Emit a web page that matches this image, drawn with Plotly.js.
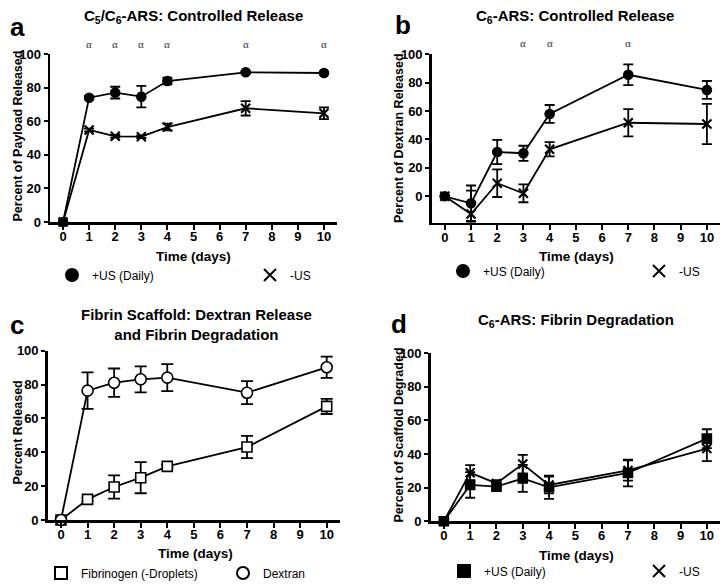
<!DOCTYPE html>
<html>
<head>
<meta charset="utf-8">
<script src="https://cdn.plot.ly/plotly-3.0.1.min.js"></script>
<style>html,body{margin:0;padding:0;background:#fff;overflow:hidden;}#chart{width:728px;height:584px;}</style>
</head>
<body>
<div id="chart"></div>
<script>
// ---------- data ----------
const days = [0, 1, 2, 3, 4, 7, 10];
const xTicks = [0, 1, 2, 3, 4, 5, 6, 7, 8, 9, 10];
const yTicks = [0, 20, 40, 60, 80, 100];

// Panel a: C5/C6-ARS controlled release
const aUS = [0, 74.0, 77.0, 74.6, 83.9, 89.1, 88.7];
const aUSerr = [0.8, 1.0, 3.5, 6.4, 2.0, 0.8, 0.8];
const aNoUS = [0, 54.8, 51.0, 50.8, 56.5, 67.7, 64.7];
const aNoUSerr = [0.5, 0.8, 0.8, 0.8, 2.0, 4.3, 3.5];
const aAlphaDays = [1, 2, 3, 4, 7, 10];

// Panel b: C6-ARS controlled release
const bUS = [0, -4.9, 31.2, 30.3, 58.0, 85.6, 74.9];
const bUSerr = [0.5, 12.5, 8.5, 5.3, 6.3, 7.3, 6.3];
const bNoUS = [0, -12.5, 9.2, 2.1, 33.1, 51.8, 50.9];
const bNoUSerrPlus = [0.5, 16.5, 9.7, 6.3, 5.0, 9.6, 14.2];
const bNoUSerrMinus = [0.5, 6.5, 9.7, 6.3, 5.0, 9.6, 14.2];
const bAlphaDays = [3, 4, 7];

// Panel c: fibrin scaffold
const cFibrinogen = [0, 12.2, 19.5, 25.0, 31.7, 43.1, 67.1];
const cFibrinogenErr = [0.5, 1.0, 6.9, 9.2, 1.0, 6.6, 4.5];
const cDextran = [0, 76.4, 81.1, 83.1, 84.1, 75.2, 90.2];
const cDextranErr = [0.5, 10.8, 8.4, 7.7, 8.0, 6.8, 6.3];

// Panel d: C6-ARS fibrin degradation
const dUS = [0, 21.6, 20.6, 25.5, 20.2, 28.7, 49.1];
const dUSerr = [0.5, 7.6, 2.0, 8.0, 6.9, 7.9, 5.6];
const dNoUS = [0, 28.9, 22.5, 34.0, 21.6, 30.2, 43.2];
const dNoUSerr = [0.5, 4.5, 2.0, 5.5, 5.0, 6.0, 7.4];

const nameUS = '+US (Daily)';
const nameNoUS = '-US';
const nameFib = 'Fibrinogen (-Droplets)';
const nameDex = 'Dextran';

const xTitle = 'Time (days)';
const yTitleA = 'Percent of Payload Released';
const yTitleB = 'Percent of Dextran Released';
const yTitleC = 'Percent Released';
const yTitleD = 'Percent of Scaffold Degraded';

// ---------- helpers ----------
const W = 728, H = 584;
const px = v => v / W;
const py = v => 1 - v / H;
const FONT = 'Arial, "Liberation Sans", sans-serif';

function mk(sym, fill, size) {
  return {symbol: sym, size: size, color: fill, line: {color: 'black', width: sym.indexOf('x') === 0 ? 2.2 : 1.6}};
}
function series(x, y, err, errMinus, sym, fill, size, xa, ya, name, capW) {
  const e = {type: 'data', array: err, color: 'black', thickness: 1.8, width: capW || 5, visible: true};
  if (errMinus) { e.symmetric = false; e.arrayminus = errMinus; }
  return {
    x: x, y: y, name: name, xaxis: xa, yaxis: ya, showlegend: false,
    mode: 'lines+markers', cliponaxis: false,
    line: {color: 'black', width: 1.8},
    marker: mk(sym, fill, size),
    error_y: e
  };
}
function legendItem(name, sym, fill, size, legend) {
  return {
    x: [null], y: [null], name: name, mode: 'markers', legend: legend, showlegend: true,
    marker: mk(sym, fill, size), xaxis: 'x', yaxis: 'y'
  };
}

const traces = [
  series(days, aUS, aUSerr, null, 'circle', 'black', 9, 'x', 'y', nameUS),
  series(days, aNoUS, aNoUSerr, null, 'x-thin-open', 'black', 9, 'x', 'y', nameNoUS),
  series(days, bUS, bUSerr, null, 'circle', 'black', 9, 'x2', 'y2', nameUS),
  series(days, bNoUS, bNoUSerrPlus, bNoUSerrMinus, 'x-thin-open', 'black', 9, 'x2', 'y2', nameNoUS),
  series(days, cFibrinogen, cFibrinogenErr, null, 'square', 'white', 10, 'x3', 'y3', nameFib, 6),
  series(days, cDextran, cDextranErr, null, 'circle', 'white', 11, 'x3', 'y3', nameDex, 6),
  series(days, dUS, dUSerr, null, 'square', 'black', 9, 'x4', 'y4', nameUS),
  series(days, dNoUS, dNoUSerr, null, 'x-thin-open', 'black', 9, 'x4', 'y4', nameNoUS),
  legendItem(nameUS, 'circle', 'black', 8, 'legend'),
  legendItem(nameNoUS, 'x-thin-open', 'black', 8, 'legend2'),
  legendItem(nameUS, 'circle', 'black', 8, 'legend3'),
  legendItem(nameNoUS, 'x-thin-open', 'black', 8, 'legend4'),
  legendItem(nameFib, 'square', 'white', 9, 'legend5'),
  legendItem(nameDex, 'circle', 'white', 9, 'legend6'),
  legendItem(nameUS, 'square', 'black', 8, 'legend7'),
  legendItem(nameNoUS, 'x-thin-open', 'black', 8, 'legend8')
];

const tickFont = {family: FONT, size: 13, color: 'black', weight: 'bold'};

function xAxis(left, right, anchor) {
  return {
    domain: [px(left), px(right)], anchor: anchor, range: [-0.5, 10.5],
    tickvals: xTicks, ticks: 'outside', ticklen: 5, tickwidth: 2, tickcolor: 'black',
    ticklabelstandoff: -4,
    showline: true, linecolor: 'black', linewidth: 2.5, showgrid: false, zeroline: false,
    tickfont: tickFont, automargin: false, fixedrange: true
  };
}
function yAxis(top, bottom, anchor, range) {
  return {
    domain: [py(bottom), py(top)], anchor: anchor, range: range,
    tickvals: yTicks, ticks: 'outside', ticklen: 4, tickwidth: 2, tickcolor: 'black',
    showline: true, linecolor: 'black', linewidth: 2.5, showgrid: false, zeroline: false,
    tickfont: tickFont, automargin: false, fixedrange: true
  };
}

// single-item legend placed by the reference marker centre (pixels)
function legendAt(markerX, centerY) {
  return {
    orientation: 'v', x: px(markerX - 23), y: py(centerY), xanchor: 'left', yanchor: 'middle',
    bgcolor: 'rgba(0,0,0,0)', borderwidth: 0,
    font: {family: FONT, size: 12, color: 'black'}, itemsizing: 'constant'
  };
}

const annotations = [];
function addText(text, xPx, yPx, size, opts) {
  annotations.push(Object.assign({
    text: text, xref: 'paper', yref: 'paper', x: px(xPx), y: py(yPx),
    xanchor: 'center', yanchor: 'middle', showarrow: false,
    font: {family: FONT, size: size, color: 'black', weight: 'bold'}
  }, opts || {}));
}
// panel titles
addText('C<sub>5</sub>/C<sub>6</sub>-ARS: Controlled Release', 193, 17, 15);
addText('C<sub>6</sub>-ARS: Controlled Release', 575, 17, 15);
addText('Fibrin Scaffold: Dextran Release<br>and Fibrin Degradation', 196, 325, 15);
addText('C<sub>6</sub>-ARS: Fibrin Degradation', 576, 320, 15);
// panel letters
addText('a', 17, 27, 26);
addText('b', 403, 25, 26);
addText('c', 17, 325, 26);
addText('d', 399, 324, 26);
// axis titles
addText(xTitle, 193, 256, 13.5);
addText(xTitle, 576, 256.5, 13.5);
addText(xTitle, 195, 553, 13.5);
addText(xTitle, 576, 555, 13.5);
addText(yTitleA, 17.5, 136, 12.5, {textangle: -90});
addText(yTitleB, 399, 138, 12.5, {textangle: -90});
addText(yTitleC, 17.5, 433, 12.5, {textangle: -90});
addText(yTitleD, 398.5, 435, 12.5, {textangle: -90});

function alphas(daysArr, xa, yPx) {
  daysArr.forEach(d => annotations.push({
    text: 'α', xref: xa, yref: 'paper', x: d, y: py(yPx), xanchor: 'center', yanchor: 'middle',
    showarrow: false, font: {family: '"Liberation Serif", "DejaVu Serif", serif', size: 11, color: '#333'}
  }));
}
alphas(aAlphaDays, 'x', 44);
alphas(bAlphaDays, 'x2', 43);

const layout = {
  width: W, height: H, margin: {l: 0, r: 0, t: 0, b: 0, autoexpand: false},
  paper_bgcolor: 'white', plot_bgcolor: 'white',
  font: {family: FONT, color: 'black'},
  xaxis: xAxis(50, 337, 'y'),
  yaxis: yAxis(54, 222, 'x', [0, 100]),
  xaxis2: xAxis(431.7, 720, 'y2'),
  yaxis2: yAxis(54.3, 222.7, 'x2', [-18.6, 100]),
  xaxis3: xAxis(47.7, 340, 'y3'),
  yaxis3: yAxis(350.7, 520, 'x3', [0, 100]),
  xaxis4: xAxis(430.7, 720, 'y4'),
  yaxis4: yAxis(353, 521.3, 'x4', [0, 100]),
  legend: legendAt(75, 275),
  legend2: legendAt(273, 275),
  legend3: legendAt(466, 271),
  legend4: legendAt(662, 271),
  legend5: legendAt(64, 573),
  legend6: legendAt(246, 573),
  legend7: legendAt(467, 571),
  legend8: legendAt(662, 571),
  annotations: annotations,
  showlegend: true
};

Plotly.newPlot('chart', traces, layout, {displayModeBar: false, staticPlot: true});
</script>
</body>
</html>
